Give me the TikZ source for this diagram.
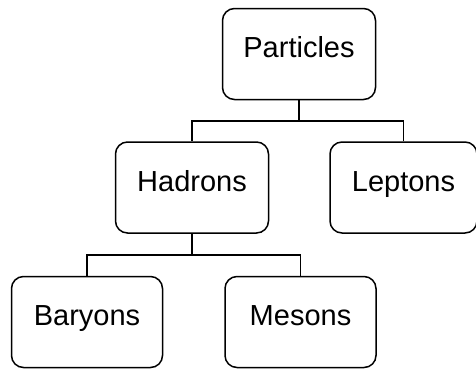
\documentclass[tikz,border=0pt]{standalone}
\usepackage{fontspec}
\setsansfont{Liberation Sans}
\usetikzlibrary{positioning, calc}

\tikzset{
	partbox/.style={draw, rounded corners=12pt, line width=1.5pt,
		minimum width=153pt, minimum height=91pt,
		text height=0.85em, text depth=0.15em},
	link/.style={draw, line width=1.5pt}
}

\begin{document}
\begin{tikzpicture}[x=1pt, y=1pt, font=\sffamily\fontsize{29}{33}\selectfont]
	\useasboundingbox (0,0) rectangle (476,-368);
	
	\node[partbox] 						(Particles) 	at (299,-54) 	{Particles};
	\node[partbox] 						(Hadrons) 	at (192,-187.5) 	{Hadrons};
	\node[partbox, minimum width=147pt, right=60pt of Hadrons]	(Leptons) 	{Leptons};
	\node[partbox, minimum width=151pt] 	(Baryons) 	at (87,-322) 	{Baryons};
	\node[partbox, minimum width=151pt, right=61pt of Baryons]	(Mesons) 	{Mesons};
	
	% elbow joints halfway between the levels
	\coordinate (top) 	at ($(Particles.south)!0.5!(Hadrons.north -| Particles.south)$);
	\coordinate (mid) 	at ($(Hadrons.south)!0.5!(Baryons.north -| Hadrons.south)$);
	
	\draw[link] (Particles.south) -- (top);
	\draw[link] (top) -| (Hadrons.north);
	\draw[link] (top) -| (Leptons.north);
	\draw[link] (Hadrons.south) -- (mid);
	\draw[link] (mid) -| (Baryons.north);
	\draw[link] (mid) -| (Mesons.north);
\end{tikzpicture}
\end{document}
